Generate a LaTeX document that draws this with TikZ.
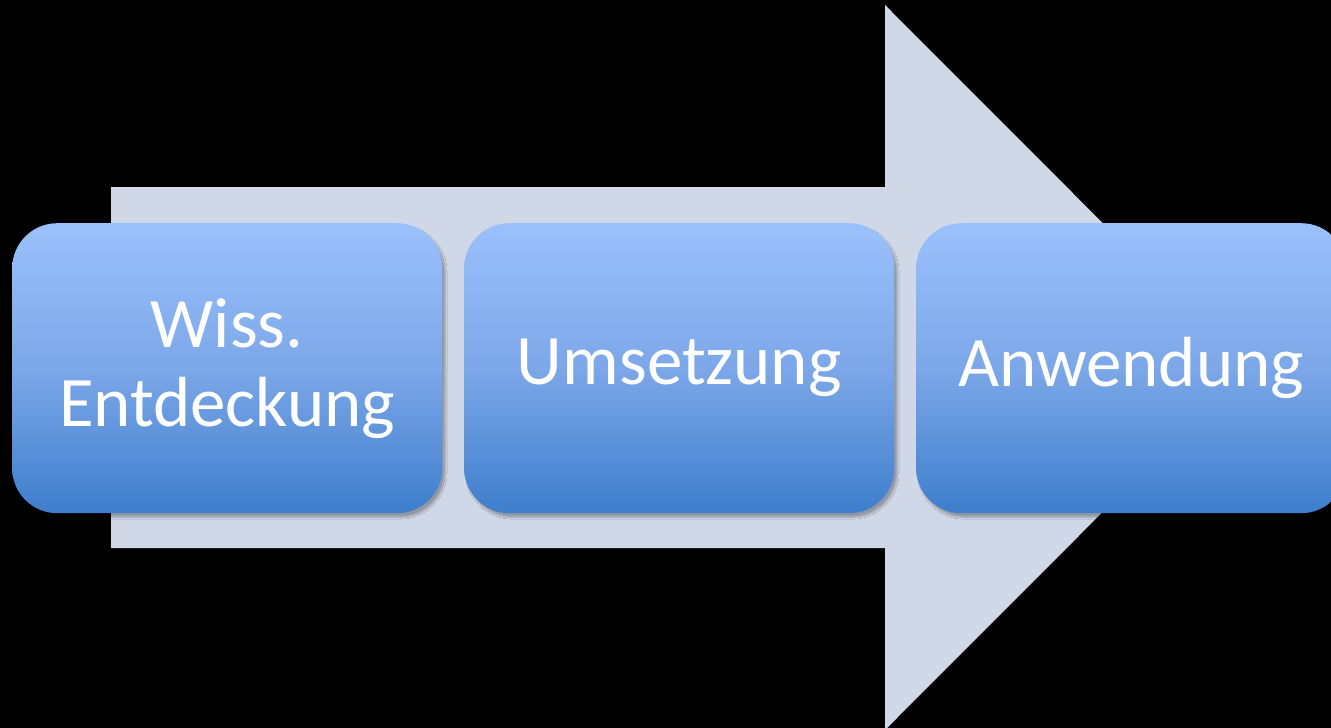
\documentclass[tikz,border=0pt]{standalone}
\usepackage{fontspec}
\setmainfont{Carlito}
\usetikzlibrary{shadows.blur}
\definecolor{arrowcol}{RGB}{208,216,232}
\definecolor{boxtop}{RGB}{155,193,252}
\definecolor{boxmid}{RGB}{124,167,232}
\definecolor{boxbot}{RGB}{62,126,204}
\tikzset{
  x=1pt, y=-1pt,
  stage/.style={rounded corners=45pt, top color=boxtop, bottom color=boxbot, middle color=boxmid,
    blur shadow={shadow xshift=3pt, shadow yshift=-4pt, shadow blur steps=6, shadow opacity=30},
    minimum width=430pt, minimum height=290pt, inner sep=0pt, anchor=north west,
    text=white, font=\fontsize{71}{79}\selectfont, align=center}
}
\begin{document}
\begin{tikzpicture}
\fill[black] (0,0) rectangle (1331,728);
\useasboundingbox (0,0) rectangle (1331,728);
\fill[arrowcol] (111,187) -- (885,187) -- (885,5) -- (1247,367.5) -- (885,730) -- (885,548) -- (111,548) -- cycle;
\begin{scope}
\clip (0,0) rectangle (1331,728);
\node[stage] (s1) at (12,223) {Wiss.\\Entdeckung};
\node[stage] (s2) at (464,223) {Umsetzung};
\node[stage] (s3) at (916,223) {Anwendung};
\end{scope}
\end{tikzpicture}
\end{document}
